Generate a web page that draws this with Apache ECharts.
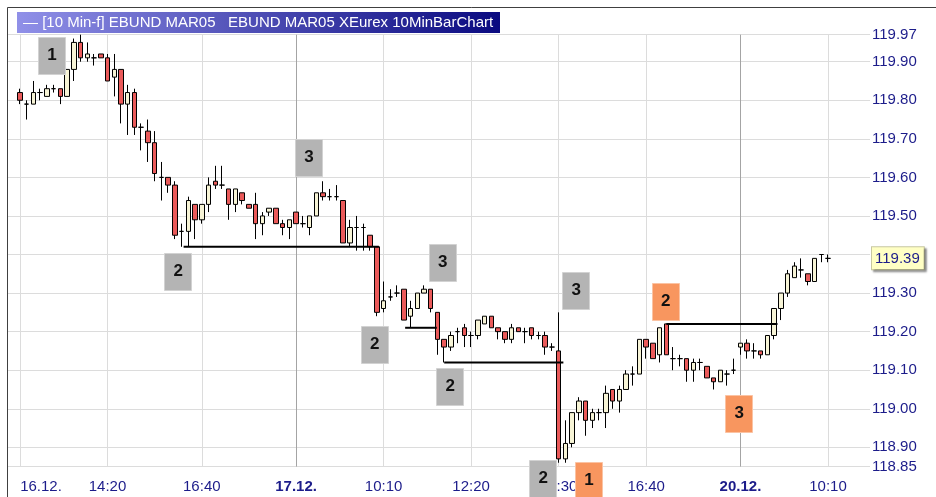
<!DOCTYPE html>
<html><head><meta charset="utf-8">
<script src="https://cdn.jsdelivr.net/npm/echarts@6/dist/echarts.min.js"></script>
<style>html,body{margin:0;padding:0;background:#fff}#c{width:936px;height:497px}</style>
</head><body><div id="c"></div>
<script>
// ---- bar data (10-minute bars, index 0 = 16.12. 12:10) ----
const openP  = [119.82,119.79,119.79,119.82,119.81,119.83,119.83,119.81,119.88,119.95,
                119.91,119.91,119.92,119.91,119.86,119.88,119.79,119.82,119.73,119.72,
                119.69,119.60,119.60,119.58,119.46,119.46,119.53,119.49,119.53,119.59,
                119.58,119.57,119.53,119.56,119.53,119.53,119.48,119.51,119.52,119.48,
                119.47,119.51,119.48,119.47,119.50,119.56,119.55,119.55,119.54,119.43,
                119.47,119.47,119.45,119.42,119.26,119.29,119.30,119.31,119.24,119.26,
                119.30,119.31,119.25,119.18,119.16,119.20,119.21,119.19,119.19,119.22,
                119.24,119.21,119.20,119.18,119.21,119.20,119.21,119.19,119.19,119.16,
                119.15,118.87,118.91,118.99,119.02,118.97,118.99,118.99,119.05,119.02,
                119.05,119.09,119.09,119.18,119.17,119.14,119.22,119.13,119.13,119.13,
                119.10,119.12,119.11,119.08,119.07,119.09,119.10,119.16,119.17,119.15,
                119.15,119.14,119.19,119.26,119.30,119.34,119.36,119.35,119.33,119.40,
                119.39];
const closeP = [119.80,119.79,119.82,119.82,119.83,119.83,119.81,119.88,119.95,119.91,
                119.92,119.91,119.91,119.85,119.88,119.79,119.82,119.73,119.73,119.69,
                119.61,119.60,119.58,119.45,119.46,119.54,119.49,119.53,119.58,119.58,
                119.58,119.53,119.57,119.54,119.52,119.48,119.50,119.52,119.48,119.47,
                119.49,119.48,119.48,119.50,119.56,119.55,119.55,119.55,119.43,119.47,
                119.47,119.47,119.42,119.25,119.28,119.29,119.30,119.23,119.26,119.30,
                119.31,119.26,119.18,119.16,119.19,119.20,119.19,119.19,119.23,119.24,
                119.21,119.20,119.18,119.21,119.20,119.20,119.19,119.19,119.16,119.16,
                118.87,118.91,118.99,119.02,118.97,118.99,118.99,119.04,119.02,119.05,
                119.09,119.09,119.18,119.16,119.13,119.21,119.14,119.13,119.13,119.10,
                119.12,119.12,119.08,119.07,119.10,119.09,119.10,119.17,119.15,119.15,
                119.14,119.19,119.26,119.30,119.35,119.37,119.36,119.33,119.39,119.40,
                119.39];
const lowP   = [119.79,119.75,119.79,119.80,119.81,119.82,119.79,119.81,119.85,119.90,
                119.90,119.89,119.91,119.85,119.81,119.74,119.71,119.71,119.67,119.64,
                119.59,119.54,119.56,119.44,119.42,119.42,119.44,119.48,119.51,119.57,
                119.57,119.49,119.51,119.53,119.52,119.44,119.45,119.50,119.48,119.45,
                119.44,119.48,119.47,119.45,119.50,119.54,119.54,119.54,119.43,119.42,
                119.41,119.41,119.41,119.24,119.25,119.28,119.29,119.23,119.21,119.26,
                119.30,119.25,119.14,119.12,119.15,119.17,119.16,119.16,119.18,119.22,
                119.21,119.18,119.17,119.17,119.20,119.17,119.18,119.18,119.14,119.15,
                118.86,118.86,118.90,118.97,118.93,118.95,118.97,118.95,119.00,118.99,
                119.05,119.06,119.09,119.13,119.13,119.12,119.14,119.10,119.11,119.07,
                119.07,119.10,119.08,119.05,119.07,119.06,119.09,119.14,119.13,119.13,
                119.13,119.14,119.18,119.23,119.29,119.34,119.34,119.32,119.33,119.38,
                119.38];
const highP  = [119.83,119.80,119.85,119.83,119.84,119.84,119.83,119.88,119.96,119.97,
                119.95,119.92,119.92,119.92,119.92,119.88,119.84,119.83,119.74,119.75,
                119.72,119.64,119.60,119.59,119.48,119.55,119.53,119.53,119.60,119.63,
                119.63,119.57,119.57,119.56,119.53,119.56,119.51,119.52,119.52,119.49,
                119.49,119.51,119.50,119.50,119.56,119.59,119.57,119.58,119.54,119.49,
                119.50,119.48,119.45,119.42,119.33,119.31,119.32,119.31,119.28,119.30,
                119.32,119.31,119.25,119.18,119.20,119.21,119.22,119.20,119.23,119.24,
                119.24,119.21,119.20,119.22,119.21,119.21,119.21,119.20,119.20,119.17,
                119.25,118.97,118.99,119.03,119.02,119.00,119.00,119.06,119.05,119.06,
                119.10,119.11,119.18,119.18,119.17,119.21,119.22,119.16,119.14,119.13,
                119.13,119.13,119.11,119.08,119.10,119.10,119.13,119.17,119.18,119.17,
                119.15,119.19,119.26,119.30,119.36,119.38,119.39,119.35,119.39,119.40,
                119.40];

// ---- axes ----
const xTickIdx    = [0, 13, 27, 41, 54, 67, 80, 93, 107, 120];
const xTickLabels = ['16.12.', '14:20', '16:40', '17.12.', '10:10', '12:20', '14:30', '16:40', '20.12.', '10:10'];
const dayStartIdx = [41, 107];
const yTickValues  = [118.85, 118.90, 119.00, 119.10, 119.20, 119.30, 119.40, 119.50, 119.60, 119.70, 119.80, 119.90, 119.97];
const yLabelValues = [118.85, 118.90, 119.00, 119.10, 119.20, 119.30, 119.39, 119.50, 119.60, 119.70, 119.80, 119.90, 119.97];
const lastPrice = 119.39;

// ---- annotations (bar index, price) ----
const annText  = ['1', '2', '3', '2', '3', '2', '3', '2', '1', '2', '3'];
const annIdx   = [4.75, 23.5, 42.9, 52.7, 62.8, 63.9, 82.6, 77.7, 84.5, 95.9, 106.8];
const annPrice = [119.917, 119.357, 119.652, 119.167, 119.38, 119.058, 119.307, 118.82, 118.814, 119.279, 118.988];
const annOrange= [false, false, false, false, false, false, false, false, true, true, true];
const lineStart = [24.3, 57.2, 63.0, 96.0];
const lineEnd   = [53.3, 61.9, 80.7, 112.5];
const linePrice = [119.42, 119.21, 119.12, 119.22];

const FONT = '"Liberation Sans", Arial, sans-serif';
const candles = openP.map((o, i) => [i, o, closeP[i], lowP[i], highP[i]]);

const chart = echarts.init(document.getElementById('c'));
const lightGrid = '#dcdcdc', darkGrid = '#a4a4a4';
chart.setOption({
  animation: false,
  backgroundColor: '#ffffff',
  grid: { left: 8, right: 66, top: 34.7, bottom: 30.4 },
  xAxis: {
    type: 'value', min: -1.782, max: 126.24,
    axisLine: { show: false }, axisTick: { show: false, customValues: xTickIdx },
    splitLine: { show: true, lineStyle: { width: 1, color: xTickIdx.map(i => dayStartIdx.includes(i) ? darkGrid : lightGrid) } },
    axisLabel: {
      customValues: xTickIdx, margin: 13, color: '#1c1c8a', fontFamily: FONT, fontSize: 15,
      formatter: v => {
        const k = xTickIdx.indexOf(Math.round(v));
        const t = xTickLabels[k];
        if (k === 0) return '{first|' + t + '}';
        if (dayStartIdx.includes(Math.round(v))) return '{b|' + t + '}';
        return t;
      },
      rich: {
        first: { padding: [0, 0, 0, 42], color: '#1c1c8a', fontFamily: FONT, fontSize: 15 },
        b: { fontWeight: 'bold', color: '#1c1c8a', fontFamily: FONT, fontSize: 15 }
      }
    }
  },
  yAxis: {
    type: 'value', position: 'right', min: 118.85, max: 119.97, scale: true,
    axisLine: { show: false }, axisTick: { show: false, customValues: yTickValues },
    splitLine: { show: true, lineStyle: { color: lightGrid, width: 1 } },
    axisLabel: {
      customValues: yLabelValues, margin: 2, color: '#1c1c8a', fontFamily: FONT, fontSize: 15,
      formatter: v => Math.abs(v - lastPrice) < 1e-6 ? '{hl|' + v.toFixed(2) + '}' : v.toFixed(2),
      rich: {
        hl: { backgroundColor: '#ffffc4', borderColor: '#c8c8a0', borderWidth: 1, padding: [4, 4, 3, 3],
              shadowColor: 'rgba(0,0,0,0.35)', shadowOffsetX: 2, shadowOffsetY: 2, shadowBlur: 2,
              color: '#1c1c8a', fontFamily: FONT, fontSize: 15 }
      }
    }
  },
  series: [{
    type: 'candlestick', barWidth: 5,
    encode: { x: 0, y: [1, 2, 3, 4] },
    data: candles,
    itemStyle: { color: '#f7f4d6', color0: '#ea5a5a', borderColor: '#000', borderColor0: '#000', borderWidth: 1 }
  }]
});

const px = (i, p) => chart.convertToPixel({ gridIndex: 0 }, [i, p]);
const graphics = [];
// frame lines
graphics.push({ type: 'line', z: 50, shape: { x1: 7.5, y1: 7.5, x2: 936, y2: 7.5 }, style: { stroke: '#404040', lineWidth: 1 } });
graphics.push({ type: 'line', z: 50, shape: { x1: 7.5, y1: 7.5, x2: 7.5, y2: 497 }, style: { stroke: '#404040', lineWidth: 1 } });
// title bar
graphics.push({ type: 'rect', z: 50, shape: { x: 17, y: 12, width: 483, height: 21 },
  style: { fill: new echarts.graphic.LinearGradient(0, 0, 1, 0, [{ offset: 0, color: '#9090e8' }, { offset: 1, color: '#0a0a80' }]) } });
graphics.push({ type: 'text', z: 51, x: 23, y: 22.5,
  style: { text: '\u2014 [10 Min-f] EBUND MAR05   EBUND MAR05 XEurex 10MinBarChart', fill: '#ffffff',
           font: '15px ' + FONT, textVerticalAlign: 'middle' } });
// support/resistance lines
for (let k = 0; k < linePrice.length; k++) {
  const a = px(lineStart[k], linePrice[k]), b = px(lineEnd[k], linePrice[k]);
  graphics.push({ type: 'line', z: 60, shape: { x1: a[0], y1: a[1], x2: b[0], y2: b[1] }, style: { stroke: '#000', lineWidth: 2 } });
}
// numbered boxes
for (let k = 0; k < annText.length; k++) {
  const c = px(annIdx[k], annPrice[k]);
  graphics.push({ type: 'rect', z: 70, shape: { x: Math.round(c[0] - 14) + 0.5, y: Math.round(c[1] - 18.5) + 0.5, width: 27, height: 37 },
    style: { fill: annOrange[k] ? '#f8965f' : '#b4b4b4', stroke: annOrange[k] ? '#fbc3a3' : '#d2d2d2', lineWidth: 1 } });
  graphics.push({ type: 'text', z: 71, x: c[0], y: c[1],
    style: { text: annText[k], fill: '#111', font: 'bold 17px ' + FONT, textAlign: 'center', textVerticalAlign: 'middle' } });
}
chart.setOption({ graphic: graphics });
</script></body></html>
